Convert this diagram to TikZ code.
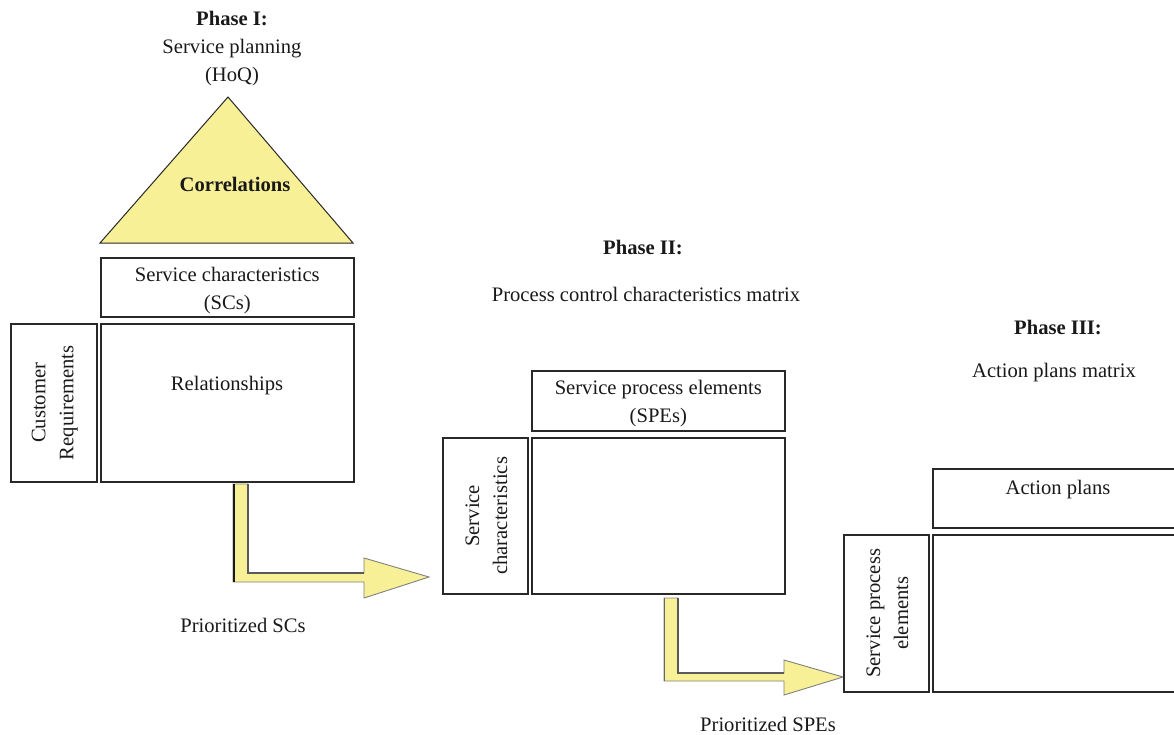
\documentclass[tikz,border=0pt]{standalone}
\usepackage{fontspec}
\setmainfont{Liberation Serif}
\definecolor{hoqyellow}{RGB}{248,240,150}
\definecolor{edgegray}{RGB}{40,40,40}
\begin{document}
\begin{tikzpicture}[x=1pt,y=-1pt,
  box/.style={draw=edgegray,line width=1.6pt,rectangle,inner sep=0pt,anchor=north west},
  lbl/.style={font=\fontsize{20.6}{28}\selectfont,align=center,text=black!90,inner sep=0pt},
  ttl/.style={lbl,font=\fontsize{20.6}{28}\selectfont\bfseries},
  blockarrow/.style={fill=hoqyellow,draw=black!50,line width=0.9pt,line join=miter},
  inneredge/.style={draw=black!65,line width=1.6pt},
  shadowline/.style={draw=black!90,line width=2.4pt}]
\useasboundingbox (0,0) rectangle (1174,734);

% ---------- Phase I ----------
\node[lbl] (ph1) at (232,49) {{\bfseries Phase I:}\\Service planning\\(HoQ)};
\coordinate (apex) at (228,97);
\coordinate (tbl) at (100,243);
\coordinate (tbr) at (353,243);
\path[fill=hoqyellow,draw=edgegray,line width=1pt,line join=miter] (tbl) -- (apex) -- (tbr) -- cycle;
\node[ttl] (corr) at (235,184) {Correlations};

\node[box,minimum width=253pt,minimum height=59pt] (scbox) at (100,257) {};
\node[lbl] (sctext) at ([yshift=-3pt]scbox.center) {Service characteristics\\(SCs)};
\node[box,minimum width=86pt,minimum height=158pt] (crbox) at (10,323) {};
\node[lbl,rotate=90] (crtext) at ([xshift=1pt]crbox.center) {Customer\\Requirements};
\node[box,minimum width=253pt,minimum height=158pt] (relbox) at (100,323) {};
\node[lbl] (reltext) at (227,386) {Relationships};

% arrow 1
\coordinate (a1s) at (240,484);
\coordinate (a1t) at (429,577);
\path[blockarrow] (233,484) -- (248,484) -- (248,573) -- (364,573) -- (364,558) -- (a1t) -- (364,598) -- (364,582) -- (233,582) -- cycle;
\draw[inneredge] (248,484) -- (248,573) -- (364,573);
\draw[shadowline] (234,484) -- (234,582);
\node[lbl] (psc) at (243,625) {Prioritized SCs};

% ---------- Phase II ----------
\node[ttl] (ph2) at (643,247) {Phase II:};
\node[lbl] (ph2sub) at (646,294) {Process control characteristics matrix};
\node[box,minimum width=253pt,minimum height=60pt] (spebox) at (531,370) {};
\node[lbl] (spetext) at ([yshift=-3pt]spebox.center) {Service process elements\\(SPEs)};
\node[box,minimum width=85pt,minimum height=156pt] (sc2box) at (442,437) {};
\node[lbl,rotate=90] (sc2text) at ([xshift=1pt]sc2box.center) {Service\\characteristics};
\node[box,minimum width=253pt,minimum height=156pt] (m2box) at (531,437) {};

% arrow 2
\coordinate (a2s) at (671,598);
\coordinate (a2t) at (843,677);
\path[blockarrow] (664,598) -- (678,598) -- (678,673) -- (784,673) -- (784,660) -- (a2t) -- (784,695) -- (784,681) -- (664,681) -- cycle;
\draw[inneredge] (678,598) -- (678,673) -- (784,673);
\draw[draw=black!60,line width=1.4pt] (664.5,598) -- (664.5,681);
\node[lbl] (pspe) at (768,724) {Prioritized SPEs};

% ---------- Phase III ----------
\node[ttl] (ph3) at (1058,327) {Phase III:};
\node[lbl] (ph3sub) at (1054,373) {Action plans matrix};
\node[box,minimum width=260pt,minimum height=59pt] (apbox) at (932,468) {};
\node[lbl] (aptext) at (1058,490) {Action plans};
\node[box,minimum width=85pt,minimum height=157pt] (spe3box) at (843,534) {};
\node[lbl,rotate=90] (spe3text) at ([xshift=1pt]spe3box.center) {Service process\\elements};
\node[box,minimum width=260pt,minimum height=157pt] (m3box) at (932,534) {};
\end{tikzpicture}
\end{document}
